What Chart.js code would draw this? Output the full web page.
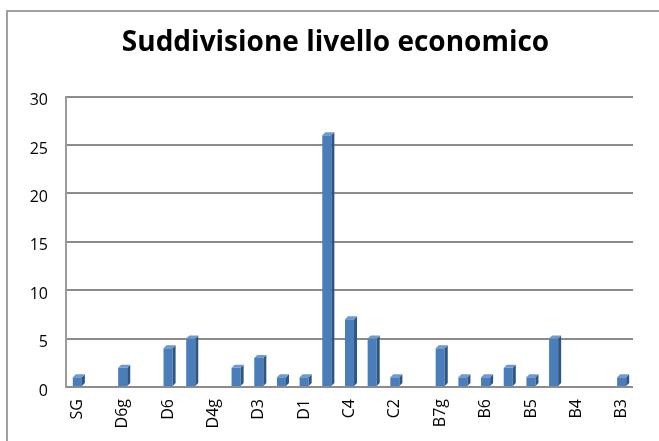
<!DOCTYPE html>
<html>
<head>
<meta charset="utf-8">
<script src="https://cdn.jsdelivr.net/npm/chart.js@4/dist/chart.umd.min.js"></script>
<style>
  html, body { margin: 0; padding: 0; background: #fff; }
  #wrap { position: relative; width: 659px; height: 441px; overflow: hidden; }
  #frame { position: absolute; left: 6px; top: 10px; width: 700px; height: 500px;
           border-top: 2px solid #a0a0a0; border-left: 2px solid #a0a0a0; }
  canvas { position: absolute; left: 0; top: 0; }
</style>
</head>
<body>
<div id="wrap">
  <div id="frame"></div>
  <canvas id="c" width="659" height="441"></canvas>
</div>
<script>
// Categories (odd-index names are hidden in the reference; estimated)
const categories = ["SG","D7","D6g","D6s","D6","D5","D4g","D4","D3","D2","D1","C5","C4","C3","C2","C1","B7g","B7","B6","B5g","B5","B4g","B4","B3g","B3"];
const values = [1,0,2,0,4,5,0,2,3,1,1,26,7,5,1,0,4,1,1,2,1,5,0,0,1];
const yTicks = [0,5,10,15,20,25,30];
const chartTitle = "Suddivisione livello economico";

const bar3d = {
  id: 'bar3d',
  afterDatasetsDraw(chart) {
    const ctx = chart.ctx;
    const meta = chart.getDatasetMeta(0);
    const d = 3;
    ctx.save();
    meta.data.forEach((el, i) => {
      if (!values[i]) return;
      const p = el.getProps(['x','y','base','width'], true);
      const l = p.x - p.width/2, r = p.x + p.width/2;
      ctx.fillStyle = '#2f5683';
      ctx.beginPath();
      ctx.moveTo(r, p.y); ctx.lineTo(r + d, p.y - d); ctx.lineTo(r + d, p.base - d); ctx.lineTo(r, p.base);
      ctx.closePath(); ctx.fill();
      ctx.fillStyle = '#6f9ad0';
      ctx.beginPath();
      ctx.moveTo(l, p.y); ctx.lineTo(l + d, p.y - d); ctx.lineTo(r + d, p.y - d); ctx.lineTo(r, p.y);
      ctx.closePath(); ctx.fill();
    });
    ctx.restore();
  }
};

new Chart(document.getElementById('c'), {
  type: 'bar',
  data: {
    labels: categories,
    datasets: [{
      data: values,
      backgroundColor: '#4a7ebb',
      borderWidth: 0,
      barPercentage: 0.4,
      categoryPercentage: 1.0
    }]
  },
  options: {
    responsive: false,
    animation: false,
    devicePixelRatio: 1,
    layout: { padding: { left: 12, right: 0, top: 0, bottom: 0 } },
    plugins: {
      legend: { display: false },
      tooltip: { enabled: false },
      title: {
        display: true,
        text: chartTitle,
        color: '#000',
        font: { family: 'Open Sans', size: 28, weight: 'bold', lineHeight: 1.2 },
        padding: { top: 26, bottom: 37 }
      }
    },
    scales: {
      x: {
        grid: { display: false, drawTicks: false },
        border: { display: false },
        afterFit: (s) => { s.height = 54; },
        ticks: {
          autoSkip: false,
          maxRotation: 90, minRotation: 90,
          padding: 12,
          color: '#000',
          font: { family: 'Open Sans', size: 16 },
          callback: function(v, i) { return i % 2 === 0 ? categories[i] : ''; }
        }
      },
      y: {
        min: 0, max: 30,
        afterBuildTicks: (s) => { s.ticks = yTicks.map(v => ({ value: v })); },
        afterFit: (s) => { s.width = 54; },
        grid: { color: '#8c8c8c', lineWidth: 2, drawTicks: false },
        border: { display: true, color: '#9a9a9a', width: 2 },
        ticks: {
          padding: 18,
          labelOffset: 4,
          color: '#000',
          font: { family: 'Open Sans', size: 16 }
        }
      },
      yRight: {
        type: 'linear',
        position: 'right',
        display: true,
        min: 0, max: 30,
        afterFit: (s) => { s.width = 26; },
        grid: { display: false, drawTicks: false },
        border: { display: false },
        ticks: { display: false }
      }
    }
  },
  plugins: [bar3d]
});
</script>
</body>
</html>
